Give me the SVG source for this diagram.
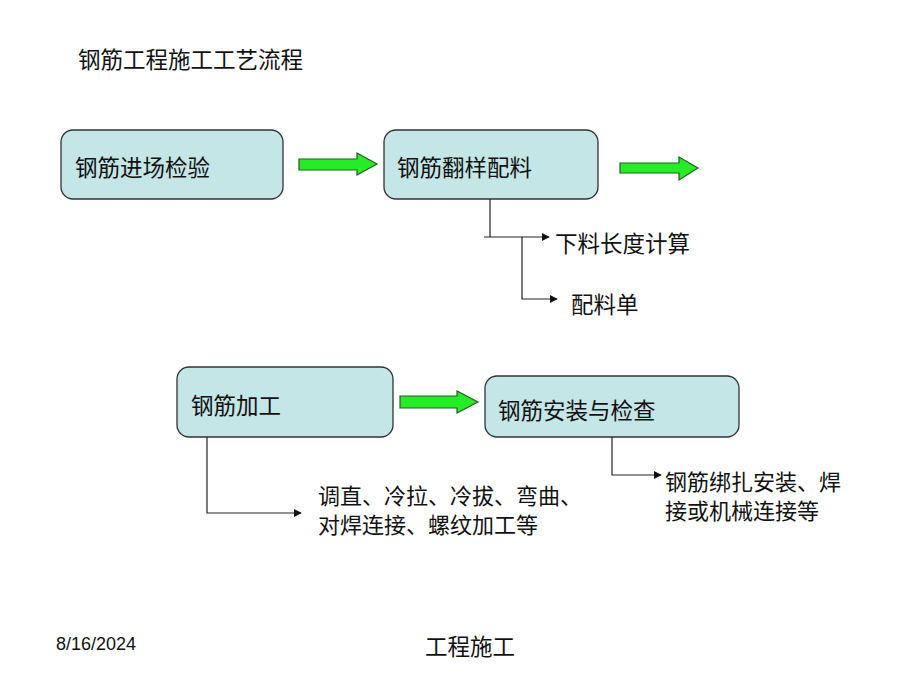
<svg xmlns="http://www.w3.org/2000/svg" width="920" height="690" viewBox="0 0 920 690">
<defs>
<style>
.box{fill:#c4e6e6;stroke:#333;stroke-width:1.3}
.t{font-family:"Noto Sans CJK SC","Noto Sans",sans-serif;font-size:22.5px;fill:#111;dominant-baseline:central}
.m{font-size:22px}
.big{fill:#22ee22;stroke:#2a5a2a;stroke-width:1.2}
.ln{fill:none;stroke:#222;stroke-width:1.2}
</style>
<marker id="ah" viewBox="0 0 10 10" refX="9" refY="5" markerWidth="8" markerHeight="8" markerUnits="userSpaceOnUse" orient="auto">
<path d="M0,0 L10,5 L0,10 Z" fill="#111"/>
</marker>
</defs>
<rect width="920" height="690" fill="#fff"/>
<text class="t" x="78" y="58" font-size="23">钢筋工程施工工艺流程</text>

<g id="n1"><rect class="box" x="61" y="130" width="222" height="69" rx="12"/><text class="t" x="75" y="166">钢筋进场检验</text></g>
<g id="n2"><rect class="box" x="384" y="130" width="214" height="69" rx="12"/><text class="t" x="397" y="166">钢筋翻样配料</text></g>
<g id="n3"><rect class="box" x="177" y="367" width="216" height="70" rx="12"/><text class="t" x="191" y="404">钢筋加工</text></g>
<g id="n4"><rect class="box" x="485" y="376" width="254" height="61" rx="12"/><text class="t" x="498" y="409">钢筋安装与检查</text></g>

<g id="l1"><text class="t" x="555" y="242">下料长度计算</text></g>
<g id="l2"><text class="t" x="571" y="303">配料单</text></g>
<g id="l3"><text class="t m" x="318" y="494"><tspan x="318" y="494">调直、冷拉、冷拔、弯曲、</tspan><tspan x="318" y="523">对焊连接、螺纹加工等</tspan></text></g>
<g id="l4"><text class="t m" x="665" y="480"><tspan x="665" y="480">钢筋绑扎安装、焊</tspan><tspan x="665" y="509">接或机械连接等</tspan></text></g>

<g id="connectors">
<path class="big" d="M299,159 H357 V153 L377,164 L357,175 V170 H299 Z"/>
<path class="big" d="M620,163 H679 V157 L698,168 L679,180 V173 H620 Z"/>
<path class="big" d="M400,396 H457 V391 L478,402 L457,413 V408 H400 Z"/>
<path class="ln" d="M490,199 V237"/>
<path class="ln" d="M484,237 H549" marker-end="url(#ah)"/>
<path class="ln" d="M522,237 V299 H557" marker-end="url(#ah)"/>
<path class="ln" d="M207,437 V513 H301" marker-end="url(#ah)"/>
<path class="ln" d="M612,437 V475 H661" marker-end="url(#ah)"/>
</g>

<text x="56" y="650" font-family="Liberation Sans, Arial, sans-serif" font-size="18" fill="#111">8/16/2024</text>
<text class="t" x="425" y="645" font-size="17.5">工程施工</text>
</svg>
